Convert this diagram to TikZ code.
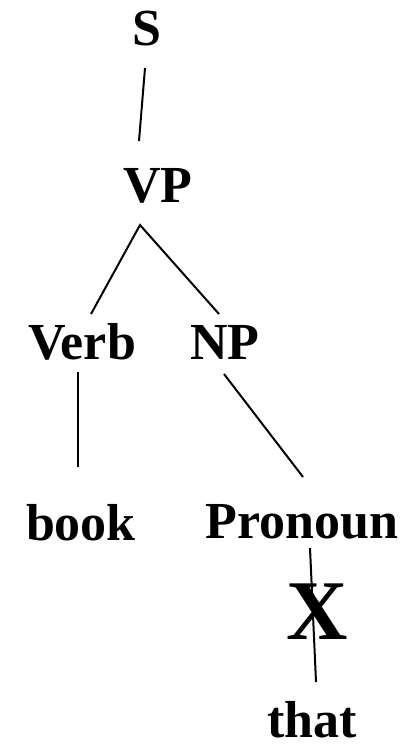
\documentclass[tikz,border=0pt]{standalone}
\usepackage{fontspec}
\setmainfont{Liberation Serif}
\usetikzlibrary{calc}
\begin{document}
\begin{tikzpicture}[x=1pt,y=-1pt,
  lbl/.style={anchor=base,inner sep=0pt,font=\bfseries\fontsize{52}{60}\selectfont},
  big/.style={anchor=base,inner sep=0pt,font=\bfseries\fontsize{85}{100}\selectfont},
  edge/.style={line width=2pt}]
\useasboundingbox (0,0) rectangle (409,746);
\fill[white] (0,0) rectangle (409,746);
\node[lbl] (S) at (147,46) {S};
\node[lbl] (VP) at (158,202) {VP};
\node[lbl] (Verb) at (82,359) {Verb};
\node[lbl] (NP) at (225,359) {NP};
\node[lbl] (book) at (81,540) {book};
\node[lbl] (Pronoun) at (302,538) {Pronoun};
\node[big] (X) at (317,639) {X};
\node[lbl] (that) at (312,737) {that};
\draw[edge] ($(S.base)+(-2,22)$) -- ($(VP.base)+(-19,-61)$);
\draw[edge] ($(Verb.base)+(9,-45)$) -- ($(VP.base)+(-18,23)$) -- ($(NP.base)+(-6,-45)$);
\draw[edge] ($(Verb.base)+(-4,13)$) -- ($(book.base)+(-3,-73)$);
\draw[edge] ($(NP.base)+(-1,15)$) -- ($(Pronoun.base)+(1,-61)$);
\draw[edge] ($(Pronoun.base)+(8,10)$) -- ($(that.base)+(4,-55)$);
\end{tikzpicture}
\end{document}
